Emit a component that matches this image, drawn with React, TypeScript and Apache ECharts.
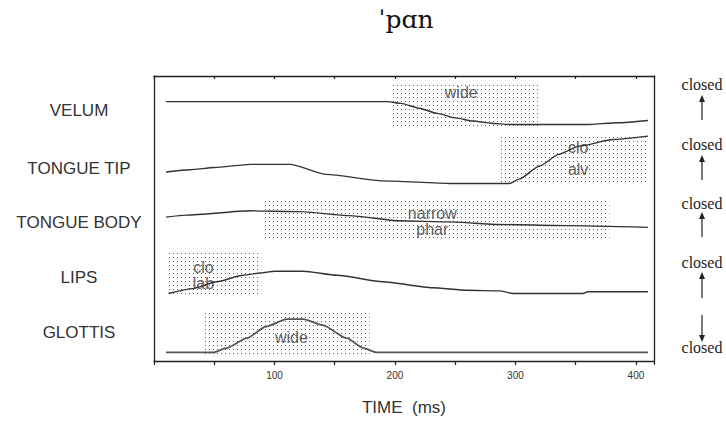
import { useEffect, useRef } from 'react';
import * as echarts from 'echarts';

// ---------- data ----------
const TITLE = 'ˈpɑn';
const ROW_NAMES = ['VELUM', 'TONGUE TIP', 'TONGUE BODY', 'LIPS', 'GLOTTIS'];
const X_TICK_LABELS = [100, 200, 300, 400];
const X_AXIS_NAME = 'TIME  (ms)';
const CLOSED = 'closed';

// time (ms) / relative articulator position (arbitrary units, 0..100 across the panel)
const velumT = [10, 194, 205, 220, 235, 250, 265, 280, 295, 360, 385, 410];
const velumV = [91.0, 91.0, 90.4, 88.7, 86.9, 85.3, 84.2, 83.4, 83.0, 83.0, 83.6, 84.4];

const tipT = [10, 30, 50, 80, 113, 143, 190, 246, 295, 303, 320, 336, 353, 381, 410];
const tipV = [66.3, 67.1, 67.9, 69.0, 69.0, 65.5, 63.2, 62.3, 62.3, 63.8, 68.4, 72.5, 75.4, 77.7, 78.9];

const bodyT = [10, 27, 80, 121, 162, 204, 245, 287, 342, 410];
const bodyV = [50.5, 51.2, 52.7, 52.4, 51.0, 49.2, 48.8, 47.9, 47.5, 46.9];

const lipsT = [12, 32, 52, 74, 88, 100, 124, 152, 190, 231, 260, 287, 298, 356, 360, 410];
const lipsV = [23.7, 25.4, 27.8, 30.1, 30.9, 31.5, 31.5, 30.1, 27.8, 25.7, 24.8, 24.6, 23.7, 23.7, 24.3, 24.3];

const glottisT = [10, 49, 60, 77, 93, 110, 124, 140, 160, 174, 185, 410];
const glottisV = [3.0, 3.0, 4.5, 8.0, 12.1, 14.7, 14.7, 12.6, 8.0, 4.5, 3.0, 3.0];

// gestures (shaded activation intervals)
const gestureStart = [196, 287, 92, 12, 42];
const gestureEnd = [320, 410, 378, 89, 179];
const gestureLow = [82.2, 62.0, 42.2, 23.0, 2.4];
const gestureHigh = [97.2, 79.4, 57.1, 38.0, 17.8];

// gesture labels
const gLabelText = ['wide', 'clo', 'alv', 'narrow', 'phar', 'clo', 'lab', 'wide'];
const gLabelT = [255, 352, 352, 231, 231, 41, 41, 114];
const gLabelV = [94.1, 74.8, 67.2, 51.9, 46.3, 32.8, 27.2, 8.4];

// ---------- layout ----------
const W = 726;
const H = 421;
const GRID = { left: 154, top: 76, right: 72, bottom: 58 };
const ROW_LABEL_X = 79;
const ROW_LABEL_Y = [110, 168, 222, 277, 332];
const CLOSED_X = 702;
const CLOSED_Y = [84, 144, 203, 262, 347];
// [tipY, tailY]
const ARROWS: [number, number][] = [
  [95, 120],
  [155, 180],
  [212, 237],
  [272, 298],
  [342, 315],
];

const SANS = '"Liberation Sans", Arial, sans-serif';
const SERIF = '"Liberation Serif", "DejaVu Serif", serif';
const IPA_SERIF = '"DejaVu Serif", serif';
const INK = '#333';

function zip(t: number[], v: number[]) {
  return t.map((x, i) => [x, v[i]]);
}

function makeDots() {
  const c = document.createElement('canvas');
  c.width = 4;
  c.height = 4;
  const ctx = c.getContext('2d');
  if (ctx) {
    ctx.fillStyle = 'rgba(60,60,60,0.8)';
    ctx.fillRect(1, 1, 1, 1);
  }
  return c;
}

export default function App() {
  const ref = useRef<HTMLDivElement>(null);

  useEffect(() => {
    if (!ref.current) return;
    const chart = echarts.init(ref.current, null, { renderer: 'svg' });
    const dots = { image: makeDots(), repeat: 'repeat', imageWidth: 4, imageHeight: 4 };

    const trajectories = [
      zip(velumT, velumV),
      zip(tipT, tipV),
      zip(bodyT, bodyV),
      zip(lipsT, lipsV),
      zip(glottisT, glottisV),
    ];

    const lineSeries = trajectories.map((d, i) => ({
      type: 'line',
      name: ROW_NAMES[i],
      data: d,
      showSymbol: false,
      smooth: 0.2,
      smoothMonotone: 'x',
      z: 3,
      lineStyle: { color: i === 4 ? '#555' : '#333', width: i === 4 ? 1.8 : 1.4 },
      markArea: {
        silent: true,
        z: 1,
        itemStyle: { color: dots as any, borderWidth: 0 },
        data: [
          [
            { xAxis: gestureStart[i], yAxis: gestureHigh[i] },
            { xAxis: gestureEnd[i], yAxis: gestureLow[i] },
          ],
        ],
      },
    }));

    const labelSeries = {
      type: 'scatter',
      symbolSize: 1,
      itemStyle: { color: 'rgba(0,0,0,0)' },
      z: 4,
      data: gLabelText.map((s, i) => ({ name: s, value: [gLabelT[i], gLabelV[i]] })),
      label: {
        show: true,
        position: 'inside',
        formatter: '{b}',
        fontSize: 16,
        fontFamily: SANS,
        color: INK,
      },
    };

    const graphics: any[] = [
      {
        type: 'text',
        x: 406,
        y: 19,
        style: {
          text: TITLE,
          font: `25px ${IPA_SERIF}`,
          fill: '#111',
          textAlign: 'center',
          textVerticalAlign: 'middle',
        },
      },
    ];
    ROW_NAMES.forEach((n, i) => {
      graphics.push({
        type: 'text',
        x: ROW_LABEL_X,
        y: ROW_LABEL_Y[i],
        style: {
          text: n,
          font: `17px ${SANS}`,
          fill: INK,
          textAlign: 'center',
          textVerticalAlign: 'middle',
        },
      });
    });
    CLOSED_Y.forEach((y) => {
      graphics.push({
        type: 'text',
        x: CLOSED_X,
        y,
        style: {
          text: CLOSED,
          font: `16px ${SERIF}`,
          fill: '#222',
          textAlign: 'center',
          textVerticalAlign: 'middle',
        },
      });
    });
    ARROWS.forEach(([tip, tail]) => {
      const dir = tail > tip ? 1 : -1;
      graphics.push({
        type: 'line',
        shape: { x1: CLOSED_X, y1: tip + dir * 5, x2: CLOSED_X, y2: tail },
        style: { stroke: '#222', lineWidth: 1.2 },
      });
      graphics.push({
        type: 'polygon',
        shape: {
          points: [
            [CLOSED_X, tip],
            [CLOSED_X - 3, tip + dir * 7],
            [CLOSED_X + 3, tip + dir * 7],
          ],
        },
        style: { fill: '#222' },
      });
    });

    const axisLine = { show: true, onZero: false, lineStyle: { color: '#222', width: 1.3 } };

    chart.setOption({
      animation: false,
      grid: { ...GRID, containLabel: false },
      xAxis: [
        {
          type: 'value',
          position: 'bottom',
          min: 0,
          max: 415,
          interval: 50,
          axisLine,
          axisTick: { show: true, inside: false, length: 4, lineStyle: { color: '#222', width: 1.2 } },
          axisLabel: {
            show: true,
            margin: 9,
            fontSize: 10,
            fontFamily: SANS,
            color: INK,
            formatter: (v: number) => (X_TICK_LABELS.includes(v) ? String(v) : ''),
          },
          splitLine: { show: false },
          name: X_AXIS_NAME,
          nameLocation: 'middle',
          nameGap: 38,
          nameTextStyle: { fontSize: 17, fontFamily: SANS, color: INK },
        },
        {
          type: 'value',
          position: 'top',
          min: 0,
          max: 415,
          interval: 50,
          axisLine,
          axisTick: { show: true, inside: true, length: 3, lineStyle: { color: '#222', width: 1.2 } },
          axisLabel: { show: false },
          splitLine: { show: false },
        },
      ],
      yAxis: [
        {
          type: 'value',
          position: 'left',
          min: 0,
          max: 100,
          axisLine,
          axisTick: { show: false },
          axisLabel: { show: false },
          splitLine: { show: false },
        },
        {
          type: 'value',
          position: 'right',
          min: 0,
          max: 100,
          axisLine,
          axisTick: { show: false },
          axisLabel: { show: false },
          splitLine: { show: false },
        },
      ],
      series: [...lineSeries, labelSeries],
      graphic: graphics,
    });

    return () => chart.dispose();
  }, []);

  return (
    <div
      ref={ref}
      style={{ position: 'fixed', left: 0, top: 0, width: W, height: H, background: '#fff' }}
    />
  );
}
